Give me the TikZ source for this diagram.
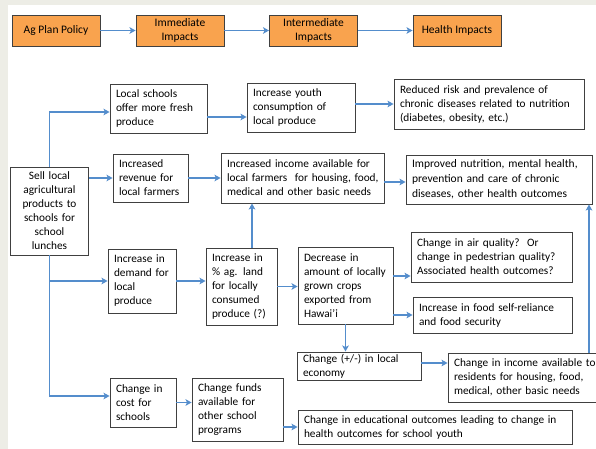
\documentclass[tikz,border=0pt]{standalone}
\usepackage{fontspec}
\setmainfont{Carlito}
\usetikzlibrary{arrows.meta}
\definecolor{bgray}{RGB}{237,237,230}
\definecolor{orng}{RGB}{249,163,78}
\definecolor{bordr}{RGB}{64,64,64}
\definecolor{arrc}{RGB}{84,141,204}
\tikzset{
  box/.style={draw=bordr, line width=0.9pt, fill=white, inner xsep=6pt, inner ysep=2pt,
    font=\fontsize{11.3}{14}\selectfont, align=left},
  hdr/.style={draw=bordr, line width=0.9pt, fill=orng, align=center,
    font=\fontsize{11.5}{14}\selectfont, minimum width=88pt, minimum height=31pt, inner sep=1pt},
  arr/.style={draw=arrc, line width=1.5pt, -{Stealth[length=6pt,width=6.5pt,inset=1.5pt]}},
}
\newcommand{\bx}[6]{\node[box, minimum width=#4pt, minimum height=#5pt, text width=#4pt-12pt] (#1) at (#2,#3) {#6};}
\begin{document}
\begin{tikzpicture}[x=1pt,y=-1pt]
\useasboundingbox (0,0) rectangle (596,449);
\fill[bgray] (0,0) rectangle (596,449);
\fill[white] (8,5) rectangle (596,449);
% header
\node[hdr] (hp) at (56,30.5) {Ag Plan Policy};
\node[hdr] (hi) at (180,30.5) {Immediate\\Impacts};
\node[hdr] (hm) at (313.5,30.5) {Intermediate\\Impacts};
\node[hdr] (hh) at (457,30.5) {Health Impacts};
\draw[arr] (hp) -- (hi);
\draw[arr] (hi) -- (hm);
\draw[arr] (hm) -- (hh);
% boxes
\bx{ls}{158.5}{108.5}{97}{49}{Local schools\\offer more fresh\\produce}
\bx{yc}{301}{107.5}{108}{49}{Increase youth\\consumption of\\local produce}
\bx{rr}{489}{104}{190}{50}{\mbox{Reduced risk and prevalence of}\\\mbox{chronic diseases related to nutrition}\\(diabetes, obesity, etc.)}
\node[box, align=center, minimum width=73pt, minimum height=88pt, text width=66pt] (sell) at (49.5,211) {Sell local\\agricultural\\products to\\schools for\\school\\lunches};
\bx{rev}{150.5}{178}{75}{48}{Increased\\revenue for\\local farmers}
\bx{inc}{302.5}{178}{163}{50}{\mbox{Increased income available for}\\\mbox{local farmers\ \ for housing, food,}\\\mbox{medical and other basic needs}}
\node[box, minimum width=186pt, minimum height=49pt, text width=174pt, font=\fontsize{11.5}{15}\selectfont] (imp) at (499,179.5) {Improved nutrition, mental health,\\prevention and care of chronic\\diseases, other health outcomes};
\bx{dem}{142}{281}{68}{64}{Increase in\\demand for\\local\\produce}
\bx{ag}{241.5}{286.5}{71}{77}{Increase in\\\% ag. land\\for locally\\consumed\\produce (?)}
\bx{dec}{345.5}{285.5}{95}{77}{Decrease in\\\mbox{amount of locally}\\grown crops\\exported from\\Hawai’i}
\bx{air}{491.5}{257}{161}{50}{\mbox{Change in air quality?\ \ Or}\\\mbox{change in pedestrian quality?}\\\mbox{Associated health outcomes?}}
\bx{food}{492.5}{315}{159}{36}{\mbox{Increase in food self-reliance}\\and food security}
\bx{eco}{359}{366}{124}{28}{Change (+/-) in local\\economy}
\bx{cin}{522.5}{377.5}{149}{49}{\mbox{Change in income available to}\\\mbox{residents for housing, food,}\\\mbox{medical, other basic needs}}
\bx{cost}{143}{402.5}{66}{49}{Change in\\cost for\\schools}
\bx{fund}{237.5}{409.5}{91}{63}{Change funds\\available for\\other school\\programs}
\bx{edu}{435}{427}{274}{34}{\mbox{Change in educational outcomes leading to change in}\\health outcomes for school youth}
% connectors
\draw[arr] (sell.north) |- ([yshift=-3.5pt]ls.west);
\draw[arr] (rev.west -| sell.east) -- (rev.west);
\draw[arr] (rev.east) -- (rev.east -| inc.west);
\draw[arr] ([yshift=-8.5pt]ls.east) coordinate (t1) -- (t1 -| yc.west);
\draw[arr] (yc.east |- rr.west) -- (rr.west);
\draw[arr] ([yshift=-4pt]inc.east) coordinate (t2) -- (t2 -| imp.west);
\draw[arr] (sell.south) |- ([yshift=6.5pt]cost.west);
\draw[arr] (sell.south |- dem.west) -- (dem.west);
\draw[arr] (dem.east) -- (dem.east -| ag.west);
\draw[arr] ([xshift=10.5pt]ag.north) coordinate (t3) -- (t3 |- inc.south);
\draw[arr] (ag.east) -- (ag.east -| dec.west);
\draw[arr] ([yshift=9.5pt]dec.east) coordinate (t4) -- (t4 -| air.west);
\draw[arr] (dec.east |- food.west) -- (food.west);
\draw[arr] (dec.south) -- (dec.south |- eco.north);
\draw[arr] ([yshift=3pt]eco.east) coordinate (t5) -- (t5 -| cin.west);
\draw[arr] ([xshift=66.5pt]cin.north) coordinate (t6) -- (t6 |- imp.south);
\draw[arr] (cost.east) -- (cost.east -| fund.west);
\draw[arr] (fund.east |- edu.west) -- (edu.west);
\end{tikzpicture}
\end{document}
